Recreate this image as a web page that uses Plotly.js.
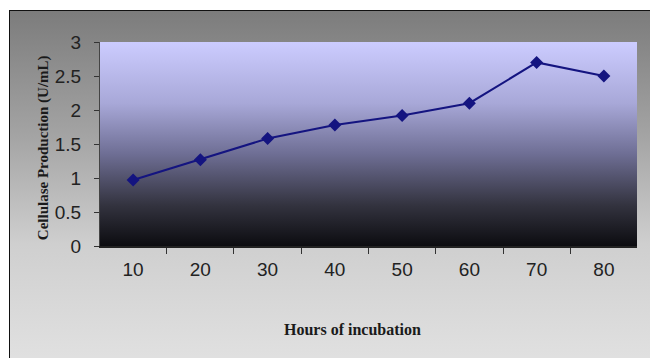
<!DOCTYPE html>
<html>
<head>
<meta charset="utf-8">
<script src="https://cdn.plot.ly/plotly-3.0.1.min.js"></script>
<style>
  html, body { margin:0; padding:0; background:#ffffff; }
  #wrap { position:relative; width:650px; height:358px; overflow:hidden; background:#ffffff; }
  #frame { position:absolute; left:9px; top:10px; width:660px; height:360px;
           border-left:1.5px solid #111; border-top:1.5px solid #111; box-sizing:border-box;
           background:linear-gradient(to bottom, #7c7c7c 0%, #a4a4a4 35%, #cfcfcf 65%, #dadada 85%, #e2e2e2 100%); }
  #chart { position:absolute; left:0; top:0; width:650px; height:358px; }
</style>
</head>
<body>
<div id="wrap">
  <div id="frame"></div>
  <div id="chart"></div>
</div>
<script>
const hours = ["10", "20", "30", "40", "50", "60", "70", "80"];
const production = [0.97, 1.27, 1.58, 1.78, 1.92, 2.10, 2.70, 2.50];
const yTicks = [0, 0.5, 1, 1.5, 2, 2.5, 3];
const yTickText = ["0", "0.5", "1", "1.5", "2", "2.5", "3"];
const xTitle = "Hours of incubation";
const yTitle = "Cellulase Production (U/mL)";

const gradSvg = '<svg xmlns="http://www.w3.org/2000/svg" width="100" height="100" preserveAspectRatio="none">' +
  '<defs><linearGradient id="g" x1="0" y1="0" x2="0" y2="1">' +
  '<stop offset="0" stop-color="#ccccff"/>' +
  '<stop offset="0.3" stop-color="#a8a8d8"/>' +
  '<stop offset="0.55" stop-color="#6e6e94"/>' +
  '<stop offset="0.8" stop-color="#33333f"/>' +
  '<stop offset="1" stop-color="#0c0c10"/>' +
  '</linearGradient></defs><rect width="100" height="100" fill="url(#g)"/></svg>';
const gradUri = 'data:image/svg+xml;base64,' + btoa(gradSvg);

const trace = {
  x: hours,
  y: production,
  type: 'scatter',
  mode: 'lines+markers',
  line: { color: '#141480', width: 2 },
  marker: { symbol: 'diamond', size: 10, color: '#141480' },
  hoverinfo: 'x+y',
  showlegend: false
};

const layout = {
  width: 650,
  height: 358,
  margin: { l: 100, r: 13, t: 42, b: 112 },
  paper_bgcolor: 'rgba(0,0,0,0)',
  plot_bgcolor: 'rgba(0,0,0,0)',
  images: [{
    source: gradUri, xref: 'paper', yref: 'paper', x: 0, y: 1,
    sizex: 1, sizey: 1, sizing: 'stretch', layer: 'below', xanchor: 'left', yanchor: 'top'
  }],
  xaxis: {
    type: 'category',
    tickson: 'boundaries',
    ticks: 'outside',
    ticklen: 6,
    tickcolor: '#333',
    tickwidth: 1,
    showline: true,
    linecolor: '#222',
    linewidth: 2,
    showgrid: false,
    zeroline: false,
    tickfont: { family: 'Liberation Sans, Arial, sans-serif', size: 19, color: '#222' },
    ticklabelstandoff: 5
  },
  yaxis: {
    range: [0, 3],
    tickvals: yTicks,
    ticktext: yTickText,
    ticks: 'outside',
    ticklen: 5,
    tickcolor: '#333',
    showline: true,
    linecolor: '#444',
    linewidth: 1,
    showgrid: false,
    zeroline: false,
    tickfont: { family: 'Liberation Sans, Arial, sans-serif', size: 19, color: '#222' },
    ticklabelstandoff: 9
  },
  annotations: [
    { text: '<b>' + xTitle + '</b>', xref: 'paper', yref: 'paper', x: 0.47, y: -0.41,
      xanchor: 'center', yanchor: 'middle', showarrow: false,
      font: { family: 'Liberation Serif, Times New Roman, serif', size: 16, color: '#1a1a1a' } },
    { text: '<b>' + yTitle + '</b>', xref: 'paper', yref: 'paper', x: -0.106, y: 0.48,
      xanchor: 'center', yanchor: 'middle', showarrow: false, textangle: -90,
      font: { family: 'Liberation Serif, Times New Roman, serif', size: 15, color: '#1a1a1a' } }
  ]
};

Plotly.newPlot('chart', [trace], layout, { displayModeBar: false, staticPlot: true });
</script>
</body>
</html>
